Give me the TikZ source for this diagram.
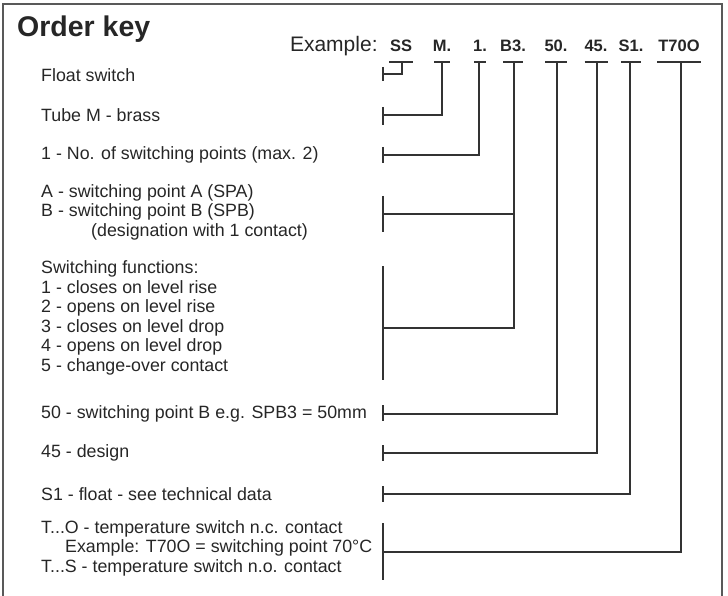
\documentclass[tikz,border=0pt]{standalone}
\usepackage{fontspec}
\setmainfont{Liberation Sans}
\usetikzlibrary{positioning}

\begin{document}
\begin{tikzpicture}[x=1pt, y=-1pt,
        keytext/.style={anchor=west, align=left, inner sep=0pt, text=black!85, font=\fontsize{17.8}{19.5}\selectfont},
        codetext/.style={anchor=base, inner sep=0pt, text=black!85, font=\fontsize{16.5}{18}\selectfont\bfseries},
        wire/.style={draw=black!80, line width=2.2pt},
    ]
    \useasboundingbox (0,0) rectangle (728,596);
    \draw[black!65, line width=1.2pt] (3,596) -- (3,4) -- (722,4) -- (722,596);

    \node[anchor=base west, inner sep=0pt, text=black!85, font=\fontsize{28.5}{30}\selectfont\bfseries] (title) at (17,37) {Order key};

    % the example code, one node per part
    \node[codetext] (ss)  at (401,52) {SS};
    \node[codetext] (m)   at (442,52) {M.};
    \node[codetext] (one) at (480,52) {1.};
    \node[codetext] (b)   at (513,52) {B3.};
    \node[codetext] (spb) at (556,52) {50.};
    \node[codetext] (des) at (596,52) {45.};
    \node[codetext] (flt) at (631,52) {S1.};
    \node[codetext] (tmp) at (679,52) {T70O};
    \node[inner sep=0pt, text=black!85, font=\fontsize{21}{23}\selectfont] (example) [base left=12pt of ss] {Example:};

    % bars under the parts
    \foreach \part/\w in {ss/12, m/8, one/6, b/10, spb/11, des/11.5, flt/10, tmp/22}
        \draw[wire] ([xshift=-\w pt, yshift=-10pt]\part.base) -- ([xshift=\w pt, yshift=-10pt]\part.base);

    % meanings
    \node[keytext] (floatsw) at (41,75)  {Float switch};
    \node[keytext] (tube)    at (41,115) {Tube M - brass};
    \node[keytext] (points)  at (41,155) {1 - No. of switching points (max. 2)};
    \node[keytext] (spab)    at (41,212) {A - switching point A (SPA)\\B - switching point B (SPB)\\\hspace*{50pt}(designation with 1 contact)};
    \node[keytext] (funcs)   at (41,318) {Switching functions:\\1 - closes on level rise\\2 - opens on level rise\\3 - closes on level drop\\4 - opens on level drop\\5 - change-over contact};
    \node[keytext] (pointb)  at (41,414) {50 - switching point B e.g. SPB3 = 50mm};
    \node[keytext] (design)  at (41,453) {45 - design};
    \node[keytext] (floats)  at (41,494) {S1 - float - see technical data};
    \node[keytext] (temp)    at (41,548) {T...O - temperature switch n.c. contact\\\hspace*{24pt}Example: T70O = switching point 70°C\\T...S - temperature switch n.o. contact};

    % brackets at the meanings
    \coordinate (k-floatsw) at (383,74);
    \coordinate (k-tube)    at (383,115);
    \coordinate (k-points)  at (383,155);
    \coordinate (k-spab)    at (383,214);
    \coordinate (k-funcs)   at (383,328);
    \coordinate (k-pointb)  at (383,414);
    \coordinate (k-design)  at (383,453);
    \coordinate (k-floats)  at (383,494);
    \coordinate (k-temp)    at (383,552);
    \foreach \k/\up/\down in {floatsw/7/7, tube/8/10, points/8/8, spab/18/18, funcs/62/52, pointb/9/7, design/8/8, floats/8/8, temp/29/28}
        \draw[wire] ([yshift=\up pt]k-\k) -- ([yshift=-\down pt]k-\k);

    % connectors
    \draw[wire] ([xshift=1pt, yshift=-10pt]ss.base)  |- (k-floatsw);
    \draw[wire] ([yshift=-10pt]m.base)   |- (k-tube);
    \draw[wire] ([xshift=-1pt, yshift=-10pt]one.base) |- (k-points);
    \draw[wire] ([xshift=1pt, yshift=-10pt]b.base) |- (k-funcs);
    \draw[wire] (k-spab) -| ([xshift=1pt]b.base |- k-funcs);
    \draw[wire] ([xshift=1pt, yshift=-10pt]spb.base) |- (k-pointb);
    \draw[wire] ([xshift=1pt, yshift=-10pt]des.base) |- (k-design);
    \draw[wire] ([xshift=-1pt, yshift=-10pt]flt.base) |- (k-floats);
    \draw[wire] ([xshift=2pt, yshift=-10pt]tmp.base) |- (k-temp);
\end{tikzpicture}
\end{document}
